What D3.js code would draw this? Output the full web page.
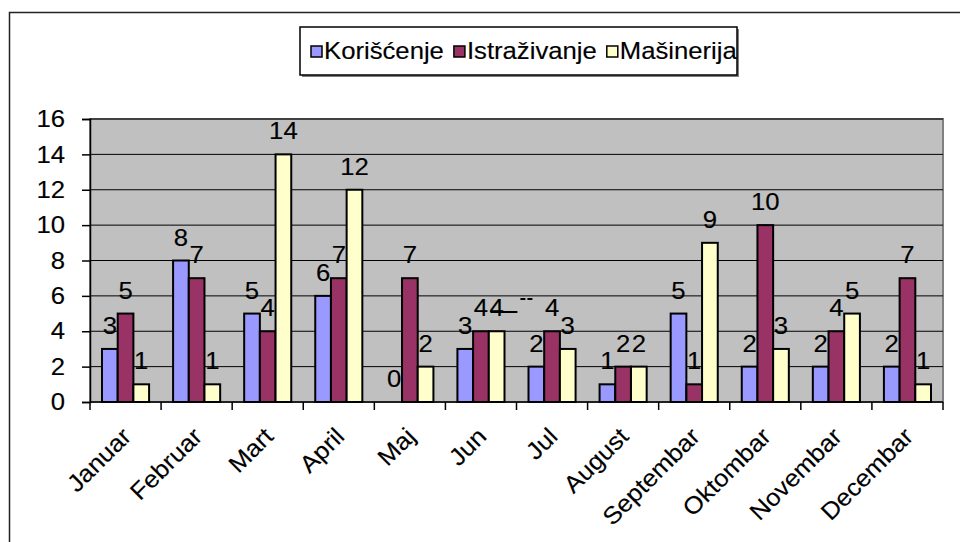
<!DOCTYPE html>
<html>
<head>
<meta charset="utf-8">
<script src="https://cdn.jsdelivr.net/npm/d3@7"></script>
<style>
  body { margin: 0; background: #fff; }
  svg text { font-family: "Liberation Sans", Arial, sans-serif; fill: #000; }
</style>
</head>
<body>
<svg id="chart" width="960" height="542"></svg>
<script>
// podaci
var meseci = ['Januar', 'Februar', 'Mart', 'April', 'Maj', 'Jun', 'Jul', 'August', 'Septembar', 'Oktombar', 'Novembar', 'Decembar'];
var serije = ['Korišćenje', 'Istraživanje', 'Mašinerija'];
var koriscenje = [3, 8, 5, 6, 0, 3, 2, 1, 5, 2, 2, 2];
var istrazivanje = [5, 7, 4, 7, 7, 4, 4, 2, 1, 10, 4, 7];
var masinerija = [1, 1, 14, 12, 2, 4, 3, 2, 9, 3, 5, 1];
var yTicks = [0, 2, 4, 6, 8, 10, 12, 14, 16];
var boje = ['#9999FF', '#993366', '#FFFFCC'];

var vrednosti = [koriscenje, istrazivanje, masinerija];

var svg = d3.select('#chart');
var FONT = 24;
var RAZ = 1.07;

// tekst malo razvucen po sirini, kao u originalu
function razvuci(sel) {
    sel.each(function() {
        var w = this.getComputedTextLength();
        d3.select(this).attr('textLength', w * RAZ).attr('lengthAdjust', 'spacingAndGlyphs')
            .attr('stroke', '#000').attr('stroke-width', 0.15);
    });
}

// okvir grafikona
svg.append('rect')
    .attr('x', 9.5).attr('y', 12.5)
    .attr('width', 1000).attr('height', 600)
    .attr('fill', '#fff').attr('stroke', '#222').attr('stroke-width', 1.5);

var plot = { left: 90, right: 943, top: 119, bottom: 402 };

var x = d3.scaleBand().domain(meseci).range([plot.left, plot.right]);
var x1 = d3.scaleBand().domain(serije).range([12, x.bandwidth() - 12]);
var y = d3.scaleLinear().domain([0, 16]).range([plot.bottom, plot.top]);

// pozadina
svg.append('rect')
    .attr('x', plot.left).attr('y', plot.top)
    .attr('width', plot.right - plot.left).attr('height', plot.bottom - plot.top)
    .attr('fill', '#C0C0C0').attr('stroke', '#808080').attr('stroke-width', 2);

// linije mreze
svg.append('g').selectAll('line').data(yTicks.slice(1)).enter().append('line')
    .attr('x1', plot.left).attr('x2', plot.right)
    .attr('y1', function(d) { return y(d); }).attr('y2', function(d) { return y(d); })
    .attr('stroke', '#000').attr('stroke-width', 1);

// y osa
var yAxis = svg.append('g').attr('transform', 'translate(' + plot.left + ',0)')
    .call(d3.axisLeft(y).tickValues(yTicks).tickSize(8).tickPadding(17));
yAxis.select('.domain').attr('stroke', '#000').attr('stroke-width', 1.5);
yAxis.selectAll('.tick line').attr('stroke', '#000').attr('stroke-width', 1.5);
yAxis.selectAll('.tick text').attr('font-size', FONT).attr('fill', '#000')
    .attr('font-family', '"Liberation Sans", Arial, sans-serif').call(razvuci);

// stubici
var grupe = svg.append('g').selectAll('g').data(meseci).enter().append('g')
    .attr('transform', function(d) { return 'translate(' + x(d) + ',0)'; });

grupe.selectAll('rect').data(function(m, i) {
    return serije.map(function(s, j) { return { serija: s, v: vrednosti[j][i], j: j }; });
}).enter().append('rect')
    .attr('x', function(d) { return x1(d.serija); })
    .attr('y', function(d) { return y(d.v); })
    .attr('width', x1.bandwidth())
    .attr('height', function(d) { return plot.bottom - y(d.v); })
    .attr('fill', function(d) { return boje[d.j]; })
    .attr('stroke', '#000').attr('stroke-width', 2);

// x osa
var xAxis = svg.append('g').attr('transform', 'translate(0,' + plot.bottom + ')');
xAxis.append('line').attr('x1', plot.left).attr('x2', plot.right)
    .attr('stroke', '#000').attr('stroke-width', 1.5);
xAxis.selectAll('line.tick').data(d3.range(meseci.length + 1)).enter().append('line')
    .attr('class', 'tick')
    .attr('x1', function(i) { return plot.left + i * x.step(); })
    .attr('x2', function(i) { return plot.left + i * x.step(); })
    .attr('y1', 0).attr('y2', 8)
    .attr('stroke', '#000').attr('stroke-width', 1.5);

svg.append('g').selectAll('text').data(meseci).enter().append('text')
    .attr('transform', function(d) {
        return 'translate(' + (x(d) + x.bandwidth() / 2 + 7) + ',438) rotate(-45)';
    })
    .attr('text-anchor', 'end')
    .attr('font-size', FONT)
    .text(function(d) { return d; })
    .call(razvuci);

// oznake vrednosti
grupe.selectAll('text').data(function(m, i) {
    return serije.map(function(s, j) { return { serija: s, v: vrednosti[j][i], j: j }; });
}).enter().append('text')
    .attr('x', function(d) { return x1(d.serija) + x1.bandwidth() / 2; })
    .attr('y', function(d) { return y(d.v) - 15; })
    .attr('text-anchor', 'middle')
    .attr('font-size', FONT)
    .text(function(d) { return d.v; })
    .call(razvuci);

// sitni ostaci linija izmedju Jun i Jul
svg.append('line').attr('x1', x('Jun') + 45).attr('x2', x('Jun') + 72)
    .attr('y1', 312).attr('y2', 312).attr('stroke', '#000').attr('stroke-width', 2);
svg.append('line').attr('x1', x('Jun') + 75).attr('x2', x('Jun') + 88)
    .attr('y1', 299).attr('y2', 299).attr('stroke', '#000').attr('stroke-width', 2)
    .attr('stroke-dasharray', '5,2');

// legenda
var leg = svg.append('g');
leg.append('rect').attr('x', 302).attr('y', 29).attr('width', 437).attr('height', 48).attr('fill', '#808080');
leg.append('rect').attr('x', 300).attr('y', 27).attr('width', 437).attr('height', 48)
    .attr('fill', '#fff').attr('stroke', '#000').attr('stroke-width', 1.5);

var lx = 311;
serije.forEach(function(s, j) {
    leg.append('rect').attr('x', lx).attr('y', 46).attr('width', 11).attr('height', 11)
        .attr('fill', boje[j]).attr('stroke', '#000').attr('stroke-width', 1.5);
    var t = leg.append('text').attr('x', lx + 13).attr('y', 59).attr('font-size', FONT).text(s);
    var w = t.node().getComputedTextLength();
    t.call(razvuci);
    lx += 13 + w * RAZ + 10;
});
</script>
</body>
</html>
